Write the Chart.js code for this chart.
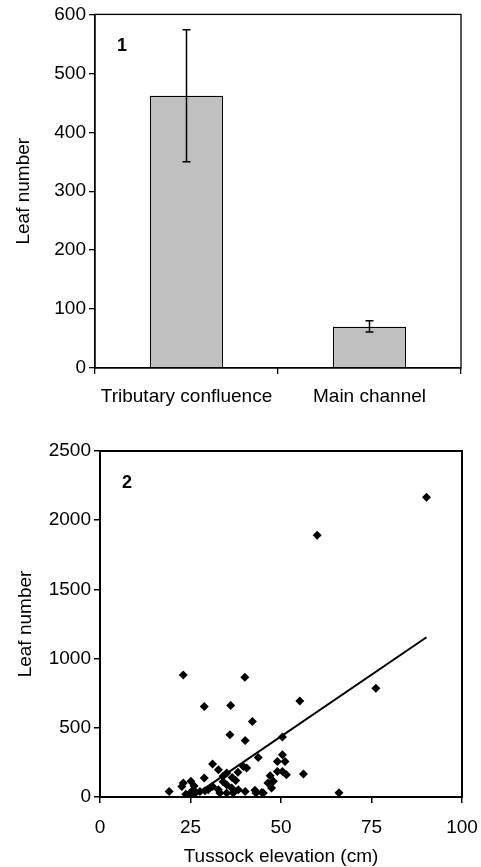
<!DOCTYPE html>
<html>
<head>
<meta charset="utf-8">
<script src="https://cdn.jsdelivr.net/npm/chart.js@4"></script>
<style>
  html, body { margin: 0; padding: 0; background: #fff; }
  #wrap { position: relative; width: 481px; height: 867px; }
  #top { position: absolute; left: 0; top: 0; }
  #bottom { position: absolute; left: 0; top: 430px; }
</style>
</head>
<body>
<div id="wrap">
  <canvas id="top" width="481" height="430"></canvas>
  <canvas id="bottom" width="481" height="437"></canvas>
</div>
<script>
// ---- panel 1: bar chart ----
var categories = ['Tributary confluence', 'Main channel'];
var leafMeans = [462, 70];
var errLow = [350, 61];
var errHigh = [574, 80];
var yTicks1 = [0, 100, 200, 300, 400, 500, 600];

// ---- panel 2: scatter ----
var elevation = [90.2, 60.0, 23.0, 40.0, 76.2, 55.2, 36.1, 28.8, 42.1, 35.9,
  50.4, 40.1, 50.4, 43.7, 49.0, 51.1, 31.1, 39.6, 40.5, 32.7,
  50.4, 49.0, 38.1, 35.0, 56.2, 51.5, 47.0, 28.8, 34.0, 36.5,
  25.1, 23.0, 47.9, 46.4, 35.0, 22.6, 31.1, 26.0, 36.4, 47.4,
  25.8, 29.9, 32.7, 38.2, 42.8, 19.1, 27.6, 40.1, 44.7, 45.1,
  24.9, 33.1, 35.0, 36.8, 43.1, 66.0, 23.7, 26.0, 29.0, 34.0,
  37.5, 24.5];
var leafCount = [2166, 1892, 882, 866, 786, 693, 661, 654, 545, 450,
  433, 408, 305, 286, 257, 257, 238, 221, 209, 197,
  185, 185, 178, 173, 166, 161, 154, 137, 150, 140,
  113, 101, 113, 101, 89, 76, 76, 80, 65, 65,
  53, 53, 53, 53, 48, 40, 40, 40, 33, 29,
  29, 29, 29, 29, 29, 30, 20, 20, 45, 110,
  120, 10];
var trendX = [26, 90.2];
var trendY = [10, 1154];

var FONT = 'Liberation Sans, Arial, sans-serif';
var FS = 19;

// plain numbers, no thousands separator
function plain(v) { return String(v); }

// box around the plot area + panel number
function frame(label, lw) {
  return {
    id: 'frame',
    afterDraw: function (chart) {
      var a = chart.chartArea, ctx = chart.ctx;
      ctx.save();
      ctx.strokeStyle = '#000';
      ctx.lineWidth = lw;
      ctx.strokeRect(a.left, a.top, a.right - a.left, a.bottom - a.top);
      ctx.fillStyle = '#000';
      ctx.font = 'bold 18px ' + FONT;
      ctx.textBaseline = 'top';
      ctx.fillText(label, a.left + 22, a.top + 23);
      ctx.restore();
    }
  };
}

var errorBars = {
  id: 'errorBars',
  afterDatasetsDraw: function (chart) {
    var ctx = chart.ctx, y = chart.scales.y;
    var meta = chart.getDatasetMeta(0);
    ctx.save();
    ctx.strokeStyle = '#000';
    ctx.lineWidth = 1.5;
    meta.data.forEach(function (bar, i) {
      var x = bar.x, lo = y.getPixelForValue(errLow[i]), hi = y.getPixelForValue(errHigh[i]);
      ctx.beginPath();
      ctx.moveTo(x, lo); ctx.lineTo(x, hi);
      ctx.moveTo(x - 4, lo); ctx.lineTo(x + 4, lo);
      ctx.moveTo(x - 4, hi); ctx.lineTo(x + 4, hi);
      ctx.stroke();
    });
    ctx.restore();
  }
};

new Chart(document.getElementById('top'), {
  type: 'bar',
  data: {
    labels: categories,
    datasets: [{
      data: leafMeans,
      backgroundColor: '#c0c0c0',
      borderColor: '#000',
      borderWidth: 1.2,
      categoryPercentage: 1,
      barPercentage: 0.4
    }]
  },
  options: {
    responsive: false,
    animation: false,
    layout: { padding: { top: 14, right: 20, left: 0, bottom: 0 } },
    plugins: { legend: { display: false }, tooltip: { enabled: false } },
    scales: {
      x: {
        grid: { offset: true, drawOnChartArea: false, tickLength: 6, color: '#000', lineWidth: 1.3 },
        border: { color: '#000', width: 1.3 },
        ticks: { color: '#000', font: { family: FONT, size: FS }, padding: 11, maxRotation: 0 },
        afterFit: function (s) { s.height = 62; }
      },
      y: {
        min: 0, max: 600,
        afterBuildTicks: function (s) { s.ticks = yTicks1.map(function (v) { return { value: v }; }); },
        grid: { drawOnChartArea: false, tickLength: 6, color: '#000', lineWidth: 1.3 },
        border: { color: '#000', width: 1.3 },
        ticks: { color: '#000', font: { family: FONT, size: FS }, padding: 3, callback: plain },
        title: { display: true, text: 'Leaf number', color: '#000', font: { family: FONT, size: FS }, padding: { top: 12 } },
        afterFit: function (s) { s.width = 95; }
      }
    }
  },
  plugins: [errorBars, frame('1', 1.3)]
});

new Chart(document.getElementById('bottom'), {
  type: 'scatter',
  data: {
    datasets: [{
      data: elevation.map(function (x, i) { return { x: x, y: leafCount[i] }; }),
      pointStyle: 'rectRot',
      radius: 4.5,
      backgroundColor: '#000',
      borderColor: '#000',
      borderWidth: 0
    }, {
      type: 'line',
      data: trendX.map(function (x, i) { return { x: x, y: trendY[i] }; }),
      borderColor: '#000',
      borderWidth: 2,
      pointRadius: 0,
      fill: false
    }]
  },
  options: {
    responsive: false,
    animation: false,
    layout: { padding: { top: 21, right: 19, left: 0, bottom: 0 } },
    plugins: { legend: { display: false }, tooltip: { enabled: false } },
    scales: {
      x: {
        type: 'linear', min: 0, max: 100,
        ticks: { stepSize: 25, color: '#000', font: { family: FONT, size: FS }, padding: 13, callback: plain },
        grid: { drawOnChartArea: false, tickLength: 6, color: '#000', lineWidth: 1.5 },
        border: { color: '#000', width: 2 },
        title: { display: true, text: 'Tussock elevation (cm)', color: '#000', font: { family: FONT, size: FS }, padding: { top: 0, bottom: -1 } },
        afterFit: function (s) { s.height = 70; s.paddingLeft = 0; s.paddingRight = 0; }
      },
      y: {
        min: 0, max: 2500,
        ticks: { stepSize: 500, color: '#000', font: { family: FONT, size: FS }, padding: 3, callback: plain },
        grid: { drawOnChartArea: false, tickLength: 6, color: '#000', lineWidth: 1.5 },
        border: { color: '#000', width: 2 },
        title: { display: true, text: 'Leaf number', color: '#000', font: { family: FONT, size: FS }, padding: { top: 14 } },
        afterFit: function (s) { s.width = 100; }
      }
    }
  },
  plugins: [frame('2', 2)]
});
</script>
</body>
</html>
